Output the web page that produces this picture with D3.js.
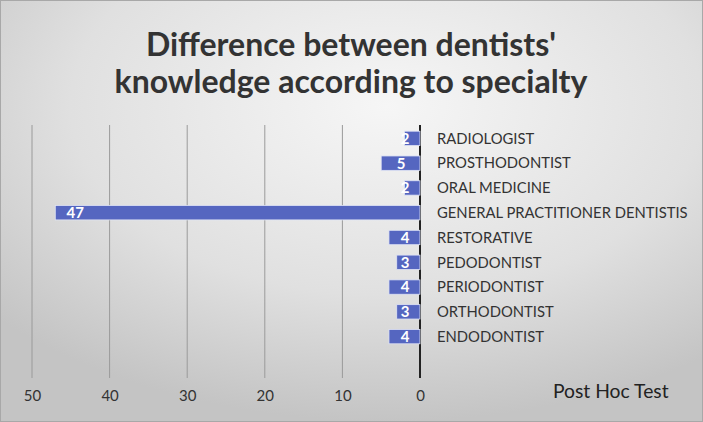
<!DOCTYPE html>
<html>
<head>
<meta charset="utf-8">
<script src="https://cdn.jsdelivr.net/npm/d3@7"></script>
<style>
  body { margin: 0; }
  svg { display: block; }
</style>
</head>
<body>
<div id="chart"></div>
<script>
const specialties = ['RADIOLOGIST', 'PROSTHODONTIST', 'ORAL MEDICINE', 'GENERAL PRACTITIONER DENTISTIS',
  'RESTORATIVE', 'PEDODONTIST', 'PERIODONTIST', 'ORTHODONTIST', 'ENDODONTIST']
const counts = [2, 5, 2, 47, 4, 3, 4, 3, 4]
const ticks = [50, 40, 30, 20, 10, 0]
const titleLines = ["Difference between dentists'", 'knowledge according to specialty']

const W = 703, H = 422
const data = specialties.map((name, i) => ({ name, value: counts[i] }))

const svg = d3.select('#chart').append('svg')
  .attr('width', W)
  .attr('height', H)

const grad = svg.append('defs').append('radialGradient')
  .attr('id', 'bg')
  .attr('cx', '55%').attr('cy', '25%').attr('r', '75%')
grad.append('stop').attr('offset', '0%').attr('stop-color', '#f6f6f6')
grad.append('stop').attr('offset', '60%').attr('stop-color', '#e0e0e0')
grad.append('stop').attr('offset', '100%').attr('stop-color', '#c4c4c4')

svg.append('rect')
  .attr('x', 0.5).attr('y', 0.5)
  .attr('width', W - 1).attr('height', H - 1)
  .attr('fill', 'url(#bg)')
  .attr('stroke', '#a8a8a8')

svg.selectAll('.title').data(titleLines)
  .enter().append('text')
    .attr('class', 'title')
    .attr('x', 351)
    .attr('y', (d, i) => 56 + i * 37)
    .attr('text-anchor', 'middle')
    .attr('font-family', 'Lato, sans-serif')
    .attr('font-weight', 'bold')
    .attr('font-size', 32)
    .attr('fill', '#333')
    .text(d => d)

const x = d3.scaleLinear()
  .domain([0, 50])
  .range([420, 32])

const y = d3.scaleBand()
  .domain(specialties)
  .range([125, 350])
  .paddingInner(0.42)
  .paddingOuter(0.25)

// gridlines
svg.append('g')
  .selectAll('line').data(ticks)
  .enter().append('line')
    .attr('x1', d => x(d)).attr('x2', d => x(d))
    .attr('y1', 125).attr('y2', 378)
    .attr('stroke', d => d === 0 ? '#222' : '#9a9a9a')
    .attr('stroke-width', d => d === 0 ? 2 : 1)

const xAxis = svg.append('g')
  .attr('transform', 'translate(0, 378)')
  .call(d3.axisBottom(x).tickValues(ticks).tickSize(0).tickPadding(12))
xAxis.select('.domain').remove()
xAxis.selectAll('text')
  .attr('font-family', 'Lato, sans-serif')
  .attr('font-size', 15)
  .attr('fill', '#333')

svg.selectAll('.bar').data(data)
  .enter().append('rect')
    .attr('class', 'bar')
    .attr('x', d => x(d.value))
    .attr('y', d => y(d.name))
    .attr('width', d => x(0) - x(d.value))
    .attr('height', y.bandwidth())
    .attr('fill', '#5566c0')
    .attr('stroke', '#dfe3f5')
    .attr('stroke-width', 0.8)

svg.selectAll('.val').data(data)
  .enter().append('text')
    .attr('class', 'val')
    .attr('x', d => Math.min(x(d.value) + 20, x(0) - 15))
    .attr('y', d => y(d.name) + y.bandwidth() / 2)
    .attr('dy', '0.36em')
    .attr('text-anchor', 'middle')
    .attr('font-family', 'Lato, sans-serif')
    .attr('font-weight', 'bold')
    .attr('font-size', 15)
    .attr('fill', '#fff')
    .text(d => d.value)

svg.selectAll('.cat').data(data)
  .enter().append('text')
    .attr('class', 'cat')
    .attr('x', 437)
    .attr('y', d => y(d.name) + y.bandwidth() / 2)
    .attr('dy', '0.36em')
    .attr('font-family', 'Lato, sans-serif')
    .attr('font-size', 14.8)
    .attr('fill', '#333')
    .text(d => d.name)

svg.append('text')
  .attr('x', 553)
  .attr('y', 398)
  .attr('font-family', 'Lato, sans-serif')
  .attr('font-size', 19.3)
  .attr('fill', '#222')
  .text('Post Hoc Test')
</script>
</body>
</html>
